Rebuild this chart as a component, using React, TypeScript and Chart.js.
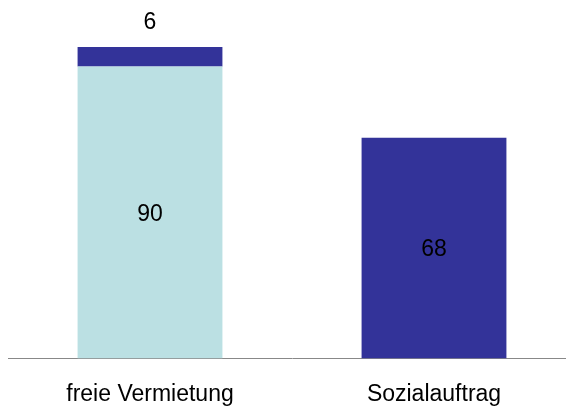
import React, { useEffect, useRef } from "react";
import { Chart, registerables } from "chart.js";

Chart.register(...registerables);

const categories = ["freie Vermietung", "Sozialauftrag"];
const lightValues: (number | null)[] = [90, null];
const darkValues: (number | null)[] = [6, 68];
const yMax = 100;

const FONT = "'Liberation Sans', Arial, sans-serif";

const valueLabels = {
  id: "valueLabels",
  afterDatasetsDraw(chart: any) {
    const ctx = chart.ctx;
    ctx.save();
    ctx.font = `23px ${FONT}`;
    ctx.fillStyle = "#000";
    ctx.textAlign = "center";
    ctx.textBaseline = "middle";
    chart.data.datasets.forEach((ds: any, di: number) => {
      const meta = chart.getDatasetMeta(di);
      meta.data.forEach((bar: any, i: number) => {
        const v = ds.data[i];
        if (v == null) return;
        const top = Math.min(bar.y, bar.base);
        const h = Math.abs(bar.base - bar.y);
        const y = h < 30 ? top - 24 : top + h / 2 + 2;
        ctx.fillText(String(v), bar.x, y);
      });
    });
    ctx.restore();
  },
};

export default function App() {
  const ref = useRef<HTMLCanvasElement>(null);
  useEffect(() => {
    if (!ref.current) return;
    const chart = new Chart(ref.current, {
      type: "bar",
      data: {
        labels: categories,
        datasets: [
          {
            label: "a",
            data: lightValues,
            backgroundColor: "#BBE0E3",
            categoryPercentage: 1,
            barPercentage: 0.51,
          },
          {
            label: "b",
            data: darkValues,
            backgroundColor: "#333399",
            categoryPercentage: 1,
            barPercentage: 0.51,
          },
        ],
      },
      options: {
        animation: false,
        responsive: false,
        maintainAspectRatio: false,
        layout: { padding: { top: 34, bottom: 4, left: 0, right: 0 } },
        plugins: { legend: { display: false }, tooltip: { enabled: false } },
        scales: {
          x: {
            stacked: true,
            grid: { display: false, drawTicks: false },
            border: { display: true, color: "#888888", width: 1 },
            ticks: {
              padding: 22,
              color: "#000",
              font: { family: FONT, size: 23 },
            },
          },
          y: {
            stacked: true,
            display: false,
            min: 0,
            max: yMax,
          },
        },
      },
      plugins: [valueLabels],
    });
    return () => chart.destroy();
  }, []);
  return (
    <div
      style={{
        position: "fixed",
        left: 0,
        top: 0,
        width: 566,
        height: 410,
        overflow: "hidden",
        background: "#fff",
      }}
    >
      <canvas
        ref={ref}
        width={568}
        height={434}
        style={{ position: "absolute", left: 8, top: 0, width: 568, height: 434 }}
      />
    </div>
  );
}
